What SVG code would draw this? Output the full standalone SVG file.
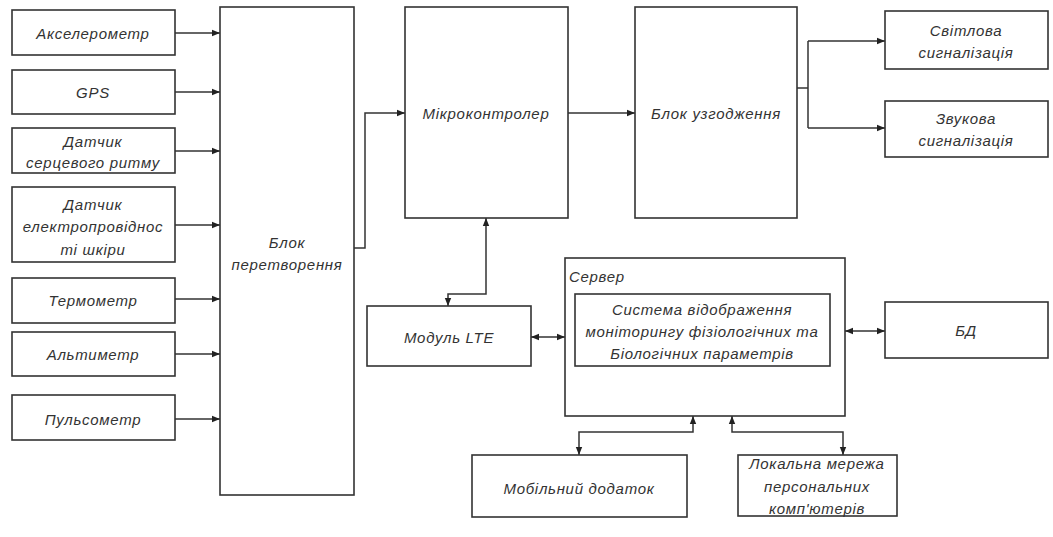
<svg xmlns="http://www.w3.org/2000/svg" width="1053" height="537" viewBox="0 0 1053 537">
<style>
.b{fill:#fff;stroke:#333;stroke-width:1.6}
.t{font-family:"Liberation Sans",Arial,sans-serif;font-style:italic;font-size:15px;letter-spacing:0.7px;fill:#333;text-anchor:middle;dominant-baseline:central}
.c{fill:none;stroke:#333;stroke-width:1.5}
</style>
<defs>
<marker id="a" viewBox="0 0 10 10" refX="10" refY="5" markerWidth="8" markerHeight="8" markerUnits="userSpaceOnUse" orient="auto-start-reverse"><path d="M0,1 L10,5 L0,9 z" fill="#222"/></marker>
</defs>
<rect width="1053" height="537" fill="#fff"/>
<g id="connectors">
<path class="c" d="M175,33 H220" marker-end="url(#a)"/>
<path class="c" d="M175,92 H220" marker-end="url(#a)"/>
<path class="c" d="M175,151 H220" marker-end="url(#a)"/>
<path class="c" d="M175,225 H220" marker-end="url(#a)"/>
<path class="c" d="M175,299 H220" marker-end="url(#a)"/>
<path class="c" d="M175,354 H220" marker-end="url(#a)"/>
<path class="c" d="M175,419 H220" marker-end="url(#a)"/>
<path class="c" d="M354,248 H365 V113 H405" marker-end="url(#a)"/>
<path class="c" d="M568,113 H635" marker-end="url(#a)"/>
<path class="c" d="M797,88 H808"/>
<path class="c" d="M808,41 V128"/>
<path class="c" d="M808,41 H885" marker-end="url(#a)"/>
<path class="c" d="M808,128 H885" marker-end="url(#a)"/>
<path class="c" d="M486,218 V294 H448 V306" marker-start="url(#a)" marker-end="url(#a)"/>
<path class="c" d="M531,337 H565" marker-start="url(#a)" marker-end="url(#a)"/>
<path class="c" d="M845,331 H885" marker-start="url(#a)" marker-end="url(#a)"/>
<path class="c" d="M693,416 V432 H579 V455" marker-start="url(#a)" marker-end="url(#a)"/>
<path class="c" d="M732,416 V432 H843 V455" marker-start="url(#a)" marker-end="url(#a)"/>
</g>
<g id="n1"><rect class="b" x="12" y="10" width="163" height="45"/><text class="t" x="93" y="33">Акселерометр</text></g>
<g id="n2"><rect class="b" x="12" y="70" width="163" height="44"/><text class="t" x="93" y="92">GPS</text></g>
<g id="n3"><rect class="b" x="12" y="128" width="163" height="45"/><text class="t" x="93" y="141">Датчик</text><text class="t" x="93" y="162">серцевого ритму</text></g>
<g id="n4"><rect class="b" x="12" y="187" width="163" height="75"/><text class="t" x="93" y="204">Датчик</text><text class="t" x="93" y="226">електропровіднос</text><text class="t" x="93" y="249">ті шкіри</text></g>
<g id="n5"><rect class="b" x="12" y="278" width="163" height="45"/><text class="t" x="93" y="300">Термометр</text></g>
<g id="n6"><rect class="b" x="12" y="332" width="163" height="44"/><text class="t" x="93" y="354">Альтиметр</text></g>
<g id="n7"><rect class="b" x="12" y="395" width="163" height="45"/><text class="t" x="93" y="419">Пульсометр</text></g>
<g id="n8"><rect class="b" x="220" y="7" width="134" height="488"/><text class="t" x="287" y="242">Блок</text><text class="t" x="287" y="264">перетворення</text></g>
<g id="n9"><rect class="b" x="405" y="7" width="163" height="211"/><text class="t" x="486" y="113">Мікроконтролер</text></g>
<g id="n10"><rect class="b" x="635" y="7" width="162" height="211"/><text class="t" x="716" y="113">Блок узгодження</text></g>
<g id="n11"><rect class="b" x="885" y="11" width="163" height="58"/><text class="t" x="966" y="30">Світлова</text><text class="t" x="966" y="52">сигналізація</text></g>
<g id="n12"><rect class="b" x="885" y="101" width="163" height="56"/><text class="t" x="966" y="118">Звукова</text><text class="t" x="966" y="140">сигналізація</text></g>
<g id="n13"><rect class="b" x="367" y="306" width="164" height="60"/><text class="t" x="449" y="337">Модуль LTE</text></g>
<g id="n14"><rect class="b" x="565" y="258" width="280" height="158"/><text class="t" x="569" y="276" style="text-anchor:start">Сервер</text>
<rect class="b" x="575" y="294" width="255" height="72"/><text class="t" x="702" y="309">Система відображення</text><text class="t" x="702" y="331">моніторингу фізіологічних та</text><text class="t" x="702" y="353">Біологічних параметрів</text></g>
<g id="n15"><rect class="b" x="885" y="302" width="163" height="56"/><text class="t" x="966" y="330">БД</text></g>
<g id="n16"><rect class="b" x="472" y="455" width="215" height="62"/><text class="t" x="579" y="488">Мобільний додаток</text></g>
<g id="n17"><rect class="b" x="738" y="455" width="159" height="61"/><text class="t" x="817" y="463">Локальна мережа</text><text class="t" x="817" y="486">персональних</text><text class="t" x="817" y="508">комп'ютерів</text></g>
</svg>
